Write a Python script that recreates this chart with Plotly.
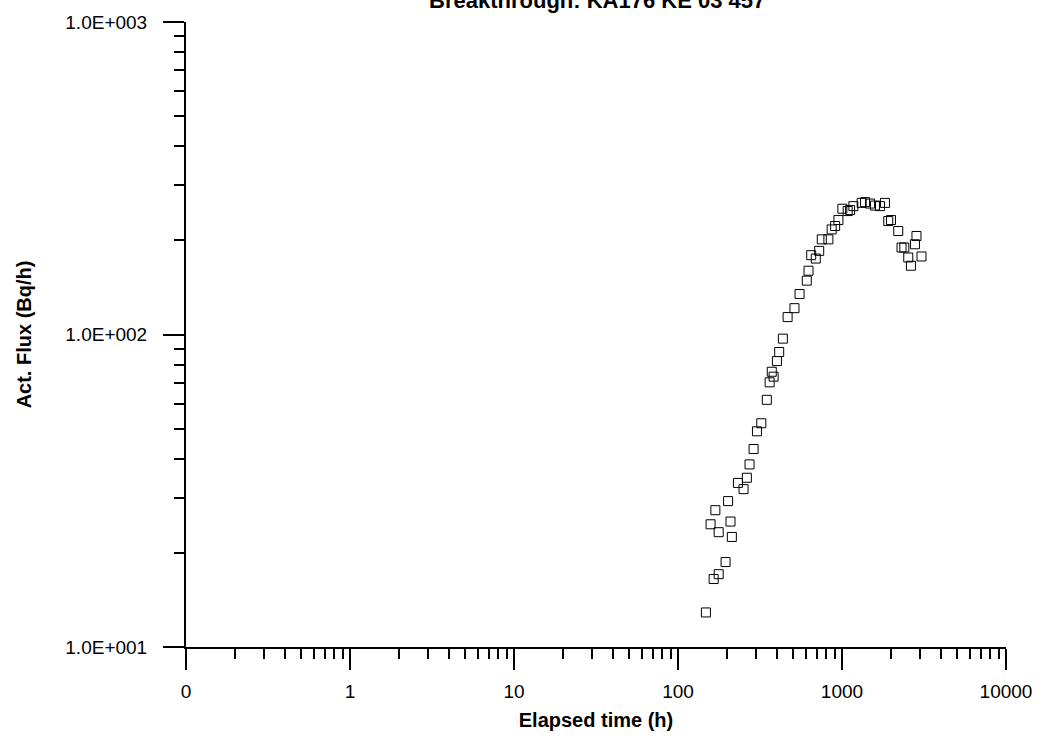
import plotly.graph_objects as go

# Elapsed time (h) and activity flux (Bq/h)
time_h = [148, 165, 177, 195, 213, 209, 177, 158, 169, 202, 251, 232, 263, 273,
          289, 303, 322, 348, 362, 383, 373, 401, 414, 436, 466, 513, 551, 610,
          625, 649, 692, 726, 753, 826, 865, 908, 951, 1005, 1083, 1120, 1173,
          1318, 1382, 1483, 1589, 1706, 1828, 1915, 1990, 2203, 2845, 2307,
          2398, 2785, 2535, 3053, 2632]
flux = [12.9, 16.5, 17.1, 18.7, 22.5, 25.2, 23.3, 24.7, 27.4, 29.3, 32.0, 33.5, 34.8, 38.4,
        43.0, 49.0, 52.0, 61.8, 70.3, 73.3, 76.0, 82.2, 87.9, 97.0, 113.7, 121.4, 134.8, 148.7,
        160.0, 179.4, 175.0, 185.2, 201.6, 201.6, 216.9, 222.4, 232.4, 252.6, 248.3, 250.1, 257.5,
        263.7, 265.2, 262.4, 258.6, 257.5, 263.7, 230.7, 232.4, 214.4, 206.7, 189.8,
        189.8, 194.4, 176.4, 177.7, 166.0]

x_tick_vals = [0.1, 1, 10, 100, 1000, 10000]
x_tick_text = ["0", "1", "10", "100", "1000", "10000"]
y_tick_vals = [10, 100, 1000]
y_tick_text = ["1.0E+001", "1.0E+002", "1.0E+003"]

title_text = "Breakthrough: KA176 KE 03 457"
x_title = "Elapsed time (h)"
y_title = "Act. Flux (Bq/h)"

x_minor = [m * 10 ** e for e in range(-1, 4) for m in range(2, 10)]
y_minor = [m * 10 ** e for e in range(1, 3) for m in range(2, 10)]

FONT = "Liberation Sans, Arial, Helvetica, sans-serif"

fig = go.Figure()
fig.add_trace(go.Scatter(
    x=time_h, y=flux, mode="markers",
    marker=dict(symbol="square-open", size=9, color="black",
                line=dict(color="black", width=1)),
    showlegend=False,
))

fig.update_layout(
    width=1044, height=746,
    margin=dict(l=186, r=36, t=18, b=99),
    paper_bgcolor="white", plot_bgcolor="white",
    font=dict(family=FONT, color="black", size=19),
    title=dict(text="<b>" + title_text + "</b>", x=0.572, xanchor="center",
               y=0.999, yref="container", yanchor="middle",
               font=dict(size=22, family=FONT, color="black")),
)

fig.update_xaxes(
    type="log", range=[-1, 4],
    showgrid=False, zeroline=False,
    showline=True, linecolor="black", linewidth=2,
    tickmode="array", tickvals=x_tick_vals, ticktext=x_tick_text,
    ticks="outside", ticklen=21, tickwidth=2, tickcolor="black",
    ticklabelstandoff=5,
    tickfont=dict(size=19, family=FONT),
    minor=dict(tickmode="array", tickvals=x_minor, ticks="outside",
               ticklen=10, tickwidth=2, tickcolor="black", showgrid=False),
    title=dict(text="<b>" + x_title + "</b>", standoff=12,
               font=dict(size=20, family=FONT)),
)
fig.update_yaxes(
    type="log", range=[1, 3],
    showgrid=False, zeroline=False,
    showline=True, linecolor="black", linewidth=2,
    tickmode="array", tickvals=y_tick_vals, ticktext=y_tick_text,
    ticks="outside", ticklen=21, tickwidth=2, tickcolor="black",
    ticklabelstandoff=12,
    tickfont=dict(size=19, family=FONT),
    minor=dict(tickmode="array", tickvals=y_minor, ticks="outside",
               ticklen=10, tickwidth=2, tickcolor="black", showgrid=False),
    title=dict(text="<b>" + y_title + "</b>", standoff=28,
               font=dict(size=20, family=FONT)),
)

fig.write_html("out.html")
